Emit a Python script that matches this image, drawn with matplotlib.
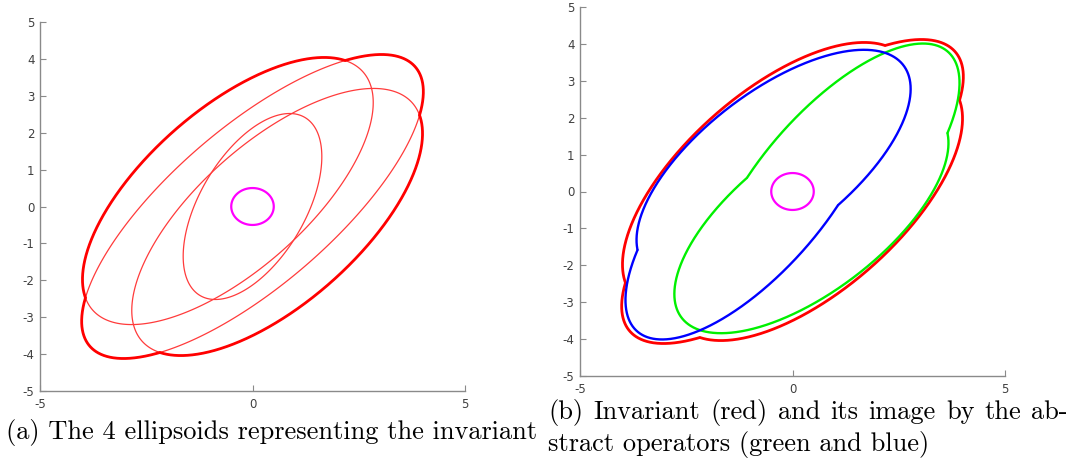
import numpy as np
import matplotlib
matplotlib.use("Agg")
import matplotlib.pyplot as plt
from matplotlib.patches import Polygon

# each ellipse: centre (cx, cy) and matrix P = [[p11, p12], [p12, p22]],
# the set {v : (v-c)' P^-1 (v-c) <= 1}
INV_CX = [-0.58, 0.58, 0.0, 0.0]
INV_CY = [0.42, -0.42, 0.0, 0.0]
INV_P11 = [11.7, 11.7, 16.16, 2.66]
INV_P12 = [8.2, 8.2, 12.5, 2.2]
INV_P22 = [13.1, 13.1, 16.97, 6.35]

GREEN_CX = [0.445, 1.0]
GREEN_CY = [-0.732, 0.365]
GREEN_P11 = [10.4, 8.585]
GREEN_P12 = [6.6, 7.545]
GREEN_P22 = [9.66, 13.286]

BLUE_CX = [-0.445, -1.0]
BLUE_CY = [0.732, -0.365]
BLUE_P11 = [10.4, 8.585]
BLUE_P12 = [6.6, 7.545]
BLUE_P22 = [9.66, 13.286]

CIRCLE_R = 0.5

X_TICKS = [-5, 0, 5]
Y_TICKS = [-5, -4, -3, -2, -1, 0, 1, 2, 3, 4, 5]

CAPTION_A = "(a) The 4 ellipsoids representing the invariant"
CAPTION_B1 = "(b) Invariant (red) and its image by the ab-"
CAPTION_B2 = "stract operators (green and blue)"

W, H = 1077, 462
T = np.linspace(0, 2 * np.pi, 2001)


def outline(cx, cy, p11, p12, p22):
    L = np.linalg.cholesky(np.array([[p11, p12], [p12, p22]]))
    pts = L @ np.vstack([np.cos(T), np.sin(T)])
    return pts[0] + cx, pts[1] + cy


def inside(x, y, cx, cy, p11, p12, p22):
    det = p11 * p22 - p12 ** 2
    dx, dy = x - cx, y - cy
    return (p22 * dx * dx - 2 * p12 * dx * dy + p11 * dy * dy) / det < 1 - 1e-9


def closed_curve(ax, x, y, color, lw):
    ax.add_patch(Polygon(np.column_stack([x[:-1], y[:-1]]), closed=True,
                         fill=False, edgecolor=color, lw=lw))


def draw_all(ax, cxs, cys, p11s, p12s, p22s, color, lw):
    for e in zip(cxs, cys, p11s, p12s, p22s):
        x, y = outline(*e)
        closed_curve(ax, x, y, color, lw)


def draw_union(ax, cxs, cys, p11s, p12s, p22s, color, lw):
    ells = list(zip(cxs, cys, p11s, p12s, p22s))
    for i, e in enumerate(ells):
        x, y = outline(*e)
        hidden = np.zeros(x.shape, dtype=bool)
        for j, other in enumerate(ells):
            if j != i:
                hidden |= inside(x, y, *other)
        if hidden.all():
            continue
        if not hidden.any():
            closed_curve(ax, x, y, color, lw)
            continue
        # start the loop on a hidden point so visible arcs stay whole
        x, y, hidden = x[:-1], y[:-1], hidden[:-1]
        k = int(np.argmax(hidden))
        x, y, hidden = np.roll(x, -k), np.roll(y, -k), np.roll(hidden, -k)
        ax.plot(np.where(hidden, np.nan, x), np.where(hidden, np.nan, y),
                color=color, lw=lw, solid_capstyle='round')


def style(ax):
    ax.set_xlim(-5, 5)
    ax.set_ylim(-5, 5)
    for s in ['top', 'right']:
        ax.spines[s].set_visible(False)
    for s in ['left', 'bottom']:
        ax.spines[s].set_color('#8a8a8a')
        ax.spines[s].set_linewidth(1.0)
    ax.set_xticks(X_TICKS)
    ax.set_yticks(Y_TICKS)
    ax.set_xticklabels([str(v) for v in X_TICKS])
    ax.set_yticklabels([str(v) for v in Y_TICKS])
    ax.tick_params(direction='in', length=4, width=0.8, color='#8a8a8a',
                   labelcolor='#404040', labelsize=8.5)
    ax.tick_params(axis='y', pad=4)
    ax.tick_params(axis='x', pad=5)


fig = plt.figure(figsize=(W / 100, H / 100), dpi=100)
ax1 = fig.add_axes([40 / W, 1 - 391 / H, 425 / W, 369 / H])
ax2 = fig.add_axes([580 / W, 1 - 376 / H, 425 / W, 369 / H])

cx, cy = outline(0, 0, CIRCLE_R ** 2, 0, CIRCLE_R ** 2)

# (a) the four ellipsoids and their union
draw_all(ax1, INV_CX, INV_CY, INV_P11, INV_P12, INV_P22, '#ff3b3b', 0.9)
draw_union(ax1, INV_CX, INV_CY, INV_P11, INV_P12, INV_P22, '#ff0000', 2.0)
closed_curve(ax1, cx, cy, '#ff00ff', 1.6)
style(ax1)

# (b) invariant and its images
draw_union(ax2, INV_CX, INV_CY, INV_P11, INV_P12, INV_P22, '#ff0000', 2.0)
draw_union(ax2, GREEN_CX, GREEN_CY, GREEN_P11, GREEN_P12, GREEN_P22, '#00f000', 1.7)
draw_union(ax2, BLUE_CX, BLUE_CY, BLUE_P11, BLUE_P12, BLUE_P22, '#0000ff', 1.7)
closed_curve(ax2, cx, cy, '#ff00ff', 1.6)
style(ax2)

cap = dict(fontfamily='cmr10', fontsize=19, va='center', ha='left', color='black')
fig.text(6 / W, 1 - 432 / H, CAPTION_A, **cap)


def justified(x0, x1, y, s):
    # spread the words of a line between x0 and x1 (pixels), like LaTeX does
    words = s.split(' ')
    r = fig.canvas.get_renderer()
    widths = []
    for w in words:
        t = fig.text(0, 0, w, **cap)
        widths.append(t.get_window_extent(r).width)
        t.remove()
    gap = (x1 - x0 - sum(widths)) / (len(words) - 1)
    x = x0
    for w, wd in zip(words, widths):
        fig.text(x / W, 1 - y / H, w, **cap)
        x += wd + gap


justified(548, 1068, 412, CAPTION_B1)
fig.text(548 / W, 1 - 444 / H, CAPTION_B2, **cap)

fig.savefig('out.png', dpi=100)
